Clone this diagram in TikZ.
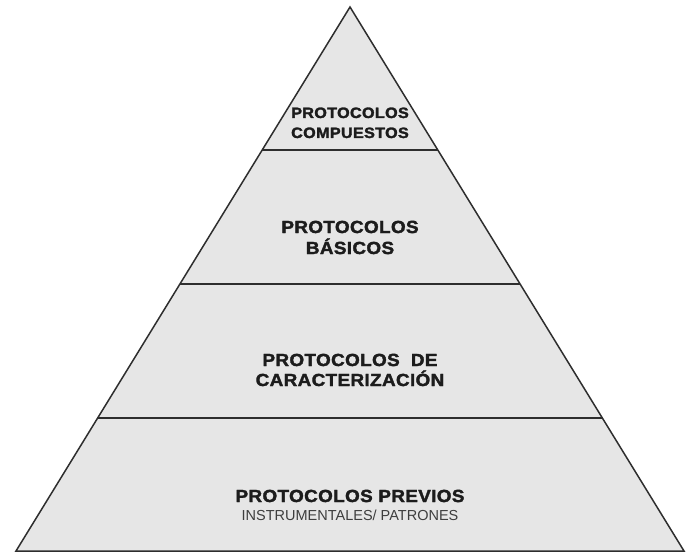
\documentclass[tikz,border=0pt]{standalone}
\usepackage{fontspec}
\usepackage{tikz}
\newfontfamily\pyrfont[FakeStretch=1.08,LetterSpace=2,FakeBold=2]{Liberation Sans Bold}
\newfontfamily\pyrsubfont{Liberation Sans}
\definecolor{layerfill}{HTML}{E6E6E6}
\definecolor{layerline}{HTML}{2E2E2E}
\definecolor{layertext}{HTML}{1C1C1C}

\begin{document}
\begin{tikzpicture}[x=1pt,y=-1pt,
  every node/.style={anchor=base, inner sep=0pt, outer sep=0pt, text=layertext},
  title/.style={font=\pyrfont\fontsize{17.5}{20}\selectfont},
  toptitle/.style={font=\pyrfont\fontsize{15}{18}\selectfont},
  subtitle/.style={font=\pyrsubfont\fontsize{14.5}{16}\selectfont, text=layertext!85}]
\useasboundingbox (0,0) rectangle (692,553);

\coordinate (apex) at (350,7);
\coordinate (baseL) at (16,551);
\coordinate (baseR) at (684,551);

\fill[layerfill] (apex) -- (baseR) -- (baseL) -- cycle;
\draw[layerline, line width=1.5pt, line join=miter] (apex) -- (baseR) -- (baseL) -- cycle;
\draw[layerline, line width=1.5pt] (262,150) -- (438,150);
\draw[layerline, line width=1.5pt] (180,284) -- (520,284);
\draw[layerline, line width=1.5pt] (97.7,418) -- (602.3,418);

\node[toptitle] (comp1) at (350,118) {PROTOCOLOS};
\node[toptitle] (comp2) at (350,138) {COMPUESTOS};

\node[title] (bas1) at (350,233) {PROTOCOLOS};
\node[title] (bas2) at (350,254) {BÁSICOS};

\node[title] (car1) at (350,366) {PROTOCOLOS~~DE};
\node[title] (car2) at (350,386) {CARACTERIZACIÓN};

\node[title] (prev1) at (350,502) {PROTOCOLOS PREVIOS};
\node[subtitle] (prev2) at (350,520) {INSTRUMENTALES/ PATRONES};
\end{tikzpicture}
\end{document}
